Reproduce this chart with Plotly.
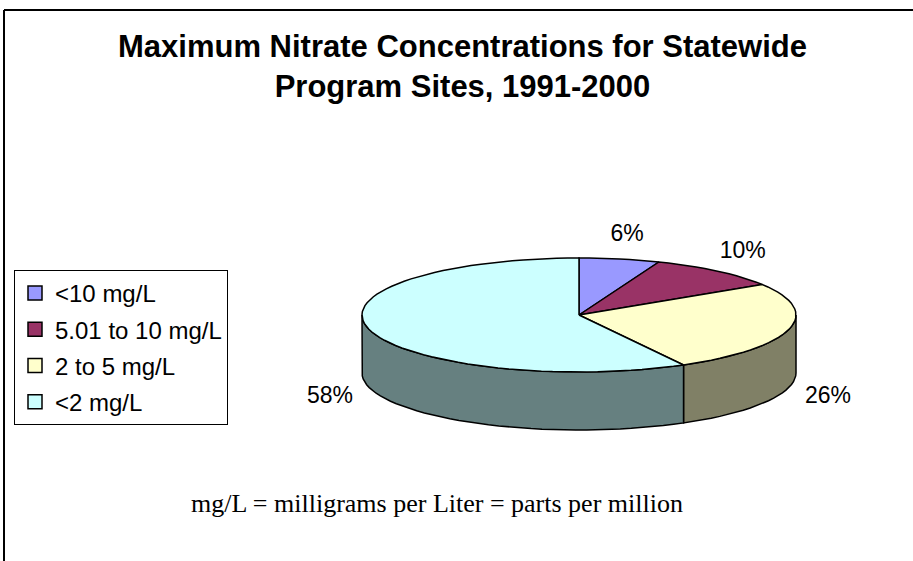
import numpy as np
import plotly.graph_objects as go

# ---- data ----
categories = ["<10 mg/L", "5.01 to 10 mg/L", "2 to 5 mg/L", "<2 mg/L"]
values = [6, 10, 26, 58]
colors = ["#9999FF", "#993366", "#FFFFCC", "#CCFFFF"]
title_text = "Maximum Nitrate Concentrations for Statewide<br>Program Sites, 1991-2000"
note_text = "mg/L = milligrams per Liter = parts per million"

# ---- geometry (pixel-like data space) ----
W, H = 913, 561
cx, cy = 579, 315      # centre of top ellipse
ra, rb = 217, 57       # ellipse radii
depth = 58             # thickness of the pie
EDGE = dict(color="black", width=1.5)


def darken(hexcol, f=0.5):
    h = hexcol.lstrip("#")
    r, g, b = (int(h[i:i + 2], 16) for i in (0, 2, 4))
    return "rgb(%d,%d,%d)" % (round(r * f), round(g * f), round(b * f))


def arc(t0, t1, dy=0.0, n=120):
    t = np.radians(np.linspace(t0, t1, max(2, int(n * (t1 - t0) / 360) + 2)))
    return cx + ra * np.sin(t), cy - rb * np.cos(t) + dy


total = float(sum(values))
angles = np.cumsum([0] + [v / total * 360 for v in values])

fig = go.Figure()

# side walls (only the front half, 90..270 deg, is visible)
for i, v in enumerate(values):
    s, e = angles[i], angles[i + 1]
    lo, hi = max(s, 90), min(e, 270)
    if hi <= lo:
        continue
    xt, yt = arc(lo, hi)
    xb, yb = arc(lo, hi, depth)
    xs = np.concatenate([xt, xb[::-1], xt[:1]])
    ys = np.concatenate([yt, yb[::-1], yt[:1]])
    fig.add_trace(go.Scatter(x=xs, y=ys, mode="lines", fill="toself",
                             fillcolor=darken(colors[i]), line=EDGE,
                             showlegend=False, hoverinfo="skip"))

# top faces
for i, v in enumerate(values):
    s, e = angles[i], angles[i + 1]
    xa, ya = arc(s, e)
    xs = np.concatenate([[cx], xa, [cx]])
    ys = np.concatenate([[cy], ya, [cy]])
    fig.add_trace(go.Scatter(x=xs, y=ys, mode="lines", fill="toself",
                             fillcolor=colors[i], line=EDGE,
                             showlegend=False, hoverinfo="skip"))

# percentage labels
lx, ly, lt = [], [], []
for i, v in enumerate(values):
    m = np.radians((angles[i] + angles[i + 1]) / 2)
    x = cx + (ra + 40) * np.sin(m)
    y = cy - (rb + 24) * np.cos(m)
    if np.cos(m) < 0:
        y += depth + 4
    lx.append(x)
    ly.append(y)
    lt.append("%d%%" % round(v / total * 100))
fig.add_trace(go.Scatter(x=lx, y=ly, text=lt, mode="text",
                         textfont=dict(family="Liberation Sans, Arial", size=23, color="black"),
                         showlegend=False, hoverinfo="skip"))

# legend entries
for i, c in enumerate(categories):
    fig.add_trace(go.Scatter(x=[None], y=[None], mode="markers", name=c,
                             legendgroup=c,
                             marker=dict(symbol="square", size=14, color=colors[i],
                                         line=dict(color="black", width=1.5))))

# title
fig.add_annotation(x=462, y=66, text="<b>" + title_text + "</b>", showarrow=False,
                   xanchor="center", yanchor="middle",
                   font=dict(family="Liberation Sans, Arial", size=31, color="black"))

# footnote
fig.add_annotation(x=437, y=503, text=note_text, showarrow=False,
                   font=dict(family="Liberation Serif, Times New Roman", size=26, color="black"))

fig.update_layout(
    width=W, height=H,
    margin=dict(l=0, r=0, t=0, b=0),
    paper_bgcolor="white", plot_bgcolor="white",
    xaxis=dict(range=[0, W], visible=False, fixedrange=True),
    yaxis=dict(range=[H, 0], visible=False, fixedrange=True),
    legend=dict(x=14 / W, y=1 - 270 / H, xanchor="left", yanchor="top",
                bordercolor="black", borderwidth=1, bgcolor="white",
                font=dict(family="Liberation Sans, Arial", size=24, color="black"),
                tracegroupgap=2, itemwidth=30),
    showlegend=True,
    shapes=[
        dict(type="line", xref="paper", yref="paper", x0=4 / W, x1=1, y0=1 - 10 / H, y1=1 - 10 / H,
             line=dict(color="black", width=2)),
        dict(type="line", xref="paper", yref="paper", x0=4 / W, x1=4 / W, y0=0, y1=1 - 10 / H,
             line=dict(color="black", width=2)),
    ],
)

fig.write_html("out.html", config={"displayModeBar": False},
               post_script="document.body.style.margin='0px';")
